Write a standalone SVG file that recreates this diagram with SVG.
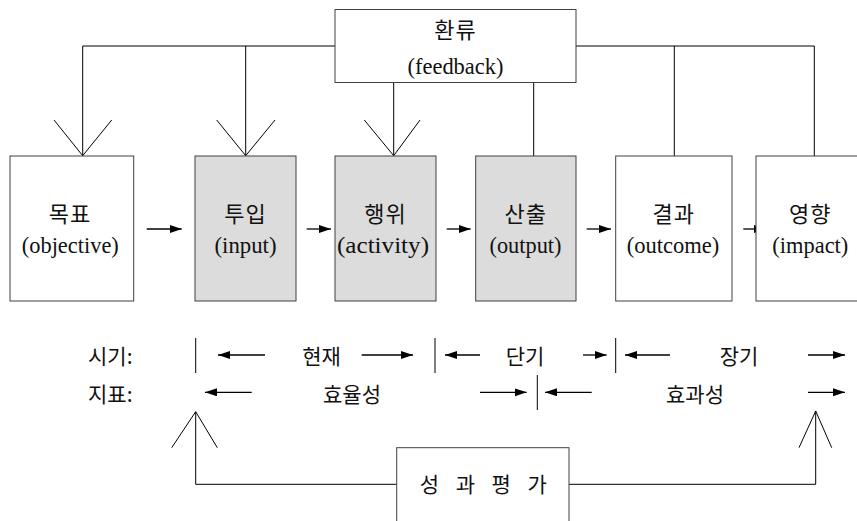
<svg xmlns="http://www.w3.org/2000/svg" width="857" height="521" viewBox="0 0 857 521">
<style>
.box{fill:#ffffff;stroke:#404040;stroke-width:1}
.gray{fill:#dcdcdc;stroke:#404040;stroke-width:1}
.ln{fill:none;stroke:#000;stroke-width:1}
.arr{fill:none;stroke:#000;stroke-width:1.3;marker-end:url(#ah)}
.t{font-family:"Liberation Serif","Noto Sans CJK KR",serif;font-size:24px;fill:#111;text-anchor:middle}
.k{font-family:"Noto Sans CJK KR","Liberation Serif",serif;font-size:21px;fill:#111;text-anchor:middle}
.kb{font-family:"Noto Sans CJK KR","Liberation Serif",serif;font-size:22px;fill:#111;text-anchor:middle;letter-spacing:1px}
.ks{font-family:"Noto Sans CJK KR","Liberation Serif",serif;font-size:21px;fill:#111}
</style>
<defs>
<marker id="ah" markerUnits="userSpaceOnUse" markerWidth="13" markerHeight="9" refX="12" refY="4" orient="auto">
<path d="M0,0 L12,4 L0,8 z" fill="#000"/>
</marker>
</defs>
<rect width="857" height="521" fill="#fff"/>

<g id="connectors">
<polyline class="ln" points="82.7,155.7 82.7,46 335,46"/>
<line class="ln" x1="245.7" y1="46" x2="245.7" y2="155.7"/>
<line class="ln" x1="393.7" y1="82.5" x2="393.7" y2="155.7"/>
<line class="ln" x1="533.7" y1="82.5" x2="533.7" y2="156"/>
<polyline class="ln" points="576,46 814.3,46 814.3,156"/>
<line class="ln" x1="674.3" y1="46" x2="674.3" y2="156"/>
<polyline class="ln" points="54,120 82.7,155.7 111.7,120"/>
<polyline class="ln" points="216.7,120 245.7,155.7 275,120"/>
<polyline class="ln" points="364.3,120 393.7,155.7 420,120"/>
<line class="arr" x1="146.7" y1="229" x2="181.7" y2="229"/>
<line class="arr" x1="306.7" y1="229" x2="331" y2="229"/>
<line class="arr" x1="446.7" y1="229" x2="470.7" y2="229"/>
<line class="arr" x1="586.7" y1="229" x2="611" y2="229"/>
<line class="arr" x1="743.3" y1="229" x2="766" y2="229"/>
<polyline class="ln" points="396.7,484.3 195.7,484.3 195.7,411.7"/>
<polyline class="ln" points="171.7,447.7 195.7,411.7 217.3,447.7"/>
<polyline class="ln" points="569,484.3 815.7,484.3 815.7,411"/>
<polyline class="ln" points="799,447.7 815.7,411 831.7,447.7"/>
<line class="ln" x1="195.7" y1="338" x2="195.7" y2="373"/>
<line class="ln" x1="435" y1="338" x2="435" y2="373"/>
<line class="ln" x1="615.7" y1="338" x2="615.7" y2="373"/>
<line class="ln" x1="537.3" y1="375" x2="537.3" y2="410"/>
<line class="arr" x1="265" y1="355" x2="218" y2="355"/>
<line class="arr" x1="361.7" y1="355" x2="413" y2="355"/>
<line class="arr" x1="480" y1="355" x2="445" y2="355"/>
<line class="arr" x1="583" y1="355" x2="606.7" y2="355"/>
<line class="arr" x1="670" y1="355" x2="625" y2="355"/>
<line class="arr" x1="808" y1="355" x2="845" y2="355"/>
<line class="arr" x1="251.7" y1="392.3" x2="205" y2="392.3"/>
<line class="arr" x1="480" y1="392.3" x2="526.7" y2="392.3"/>
<line class="arr" x1="591.7" y1="392.3" x2="545" y2="392.3"/>
<line class="arr" x1="808" y1="392.3" x2="845" y2="392.3"/>
</g>

<g id="feedback">
<rect class="box" x="335" y="9.5" width="241" height="73"/>
<text class="kb" x="455.5" y="38">환류</text>
<text class="t" x="455.5" y="74" textLength="96" lengthAdjust="spacingAndGlyphs">(feedback)</text>
</g>

<g id="objective">
<rect class="box" x="10" y="156" width="123.7" height="145"/>
<text class="kb" x="70" y="221.5">목표</text>
<text class="t" x="70.3" y="253" textLength="97" lengthAdjust="spacingAndGlyphs">(objective)</text>
</g>
<g id="input">
<rect class="gray" x="195" y="156" width="101" height="145"/>
<text class="kb" x="245.5" y="221.5">투입</text>
<text class="t" x="245.5" y="253" textLength="62" lengthAdjust="spacingAndGlyphs">(input)</text>
</g>
<g id="activity">
<rect class="gray" x="335" y="156" width="101" height="145"/>
<text class="kb" x="385.5" y="221.5">행위</text>
<text class="t" x="383" y="253" textLength="92" lengthAdjust="spacingAndGlyphs">(activity)</text>
</g>
<g id="output">
<rect class="gray" x="475.7" y="156" width="100.3" height="145"/>
<text class="kb" x="525.8" y="221.5">산출</text>
<text class="t" x="525.5" y="253" textLength="72" lengthAdjust="spacingAndGlyphs">(output)</text>
</g>
<g id="outcome">
<rect class="box" x="615.7" y="156" width="116.3" height="145"/>
<text class="kb" x="673.8" y="221.5">결과</text>
<text class="t" x="673" y="253" textLength="92.6" lengthAdjust="spacingAndGlyphs">(outcome)</text>
</g>
<g id="impact">
<rect class="box" x="756" y="156" width="112" height="145"/>
<text class="kb" x="810.3" y="221.5">영향</text>
<text class="t" x="810.3" y="253" textLength="76" lengthAdjust="spacingAndGlyphs">(impact)</text>
</g>

<g id="timeline">
<text class="ks" x="88" y="364">시기:</text>
<text class="ks" x="88" y="402">지표:</text>
<text class="k" x="321.5" y="364">현재</text>
<text class="k" x="525" y="364">단기</text>
<text class="k" x="739" y="364">장기</text>
<text class="k" x="352" y="402">효율성</text>
<text class="k" x="695" y="402">효과성</text>
</g>

<g id="evaluation">
<rect class="box" x="396.7" y="447.7" width="172.3" height="90"/>
<text class="k" x="483.3" y="492" font-size="19" textLength="127" lengthAdjust="spacing">성 과 평 가</text>
</g>
</svg>
